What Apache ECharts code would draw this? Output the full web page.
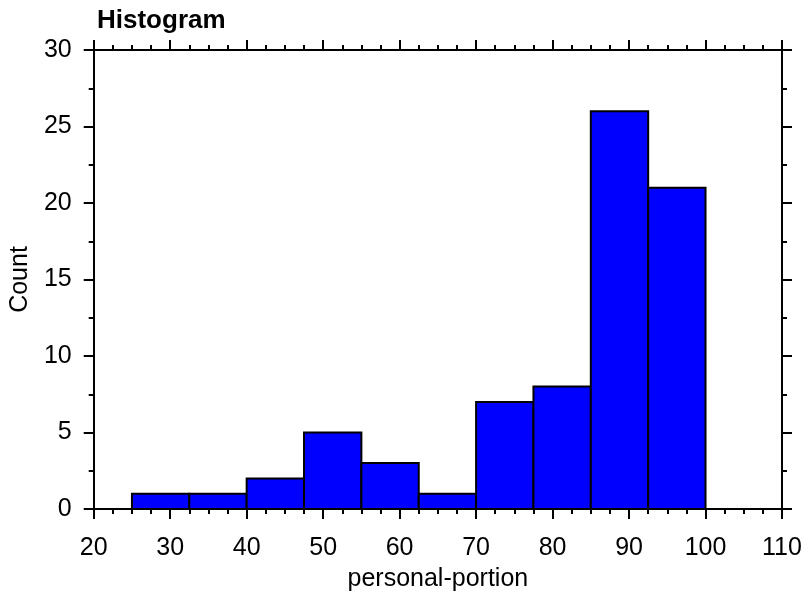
<!DOCTYPE html>
<html>
<head>
<meta charset="utf-8">
<script src="https://cdn.jsdelivr.net/npm/echarts@6/dist/echarts.min.js"></script>
<style>
html,body{margin:0;padding:0;background:#fff;}
#chart{width:808px;height:597px;}
</style>
</head>
<body>
<div id="chart"></div>
<script>
// Data
const binStarts = [25, 32.5, 40, 47.5, 55, 62.5, 70, 77.5, 85, 92.5];
const binEnds   = [32.5, 40, 47.5, 55, 62.5, 70, 77.5, 85, 92.5, 100];
const counts    = [1, 1, 2, 5, 3, 1, 7, 8, 26, 21];
const xTicks = [20, 30, 40, 50, 60, 70, 80, 90, 100, 110];
const yTicks = [0, 5, 10, 15, 20, 25, 30];
const titleText = 'Histogram';
const xName = 'personal-portion';
const yName = 'Count';

const chart = echarts.init(document.getElementById('chart'), null, {renderer: 'canvas'});
const FONT = 'Liberation Sans, Arial, sans-serif';
const data = binStarts.map((s, i) => [s, binEnds[i], counts[i]]);

const axisCommon = {
  axisLine: {show: true, onZero: false, lineStyle: {color: '#000', width: 2}},
  axisTick: {show: true, inside: false, length: 10, lineStyle: {color: '#000', width: 2}},
  minorTick: {show: true, length: 5, lineStyle: {color: '#000', width: 2}},
  splitLine: {show: false},
  minorSplitLine: {show: false}
};

chart.setOption({
  animation: false,
  backgroundColor: '#fff',
  title: {
    text: titleText, left: 92, top: 3,
    textStyle: {fontFamily: FONT, fontSize: 26, fontWeight: 'bold', color: '#000'}
  },
  grid: {left: 92, right: 26, top: 50, bottom: 87, containLabel: false},
  xAxis: [
    Object.assign({}, axisCommon, {
      type: 'value', position: 'bottom', min: xTicks[0], max: xTicks[xTicks.length - 1], interval: 10,
      minorTick: Object.assign({}, axisCommon.minorTick, {splitNumber: 4}),
      name: xName, nameLocation: 'middle', nameGap: 58,
      nameTextStyle: {fontFamily: FONT, fontSize: 25, color: '#000'},
      axisLabel: {show: true, margin: 27, fontFamily: FONT, fontSize: 25, color: '#000'}
    }),
    Object.assign({}, axisCommon, {
      type: 'value', position: 'top', min: xTicks[0], max: xTicks[xTicks.length - 1], interval: 10,
      minorTick: Object.assign({}, axisCommon.minorTick, {splitNumber: 4}),
      axisLabel: {show: false}
    })
  ],
  yAxis: [
    Object.assign({}, axisCommon, {
      type: 'value', position: 'left', min: yTicks[0], max: yTicks[yTicks.length - 1], interval: 5,
      minorTick: Object.assign({}, axisCommon.minorTick, {splitNumber: 2}),
      name: yName, nameLocation: 'middle', nameGap: 53, nameRotate: 90,
      nameTextStyle: {fontFamily: FONT, fontSize: 25, color: '#000'},
      axisLabel: {show: true, margin: 22, padding: [3, 0, 0, 0], fontFamily: FONT, fontSize: 25, color: '#000'}
    }),
    Object.assign({}, axisCommon, {
      type: 'value', position: 'right', min: yTicks[0], max: yTicks[yTicks.length - 1], interval: 5,
      minorTick: Object.assign({}, axisCommon.minorTick, {splitNumber: 2}),
      axisLabel: {show: false}
    })
  ],
  series: [{
    type: 'custom',
    xAxisIndex: 0, yAxisIndex: 0,
    data: data,
    encode: {x: [0, 1], y: 2},
    renderItem: function (params, api) {
      const p0 = api.coord([api.value(0), api.value(2)]);
      const p1 = api.coord([api.value(1), 0]);
      return {
        type: 'rect',
        shape: {x: p0[0], y: p0[1], width: p1[0] - p0[0], height: p1[1] - p0[1]},
        style: {fill: '#0000FF', stroke: '#000', lineWidth: 2}
      };
    }
  }]
});
</script>
</body>
</html>
